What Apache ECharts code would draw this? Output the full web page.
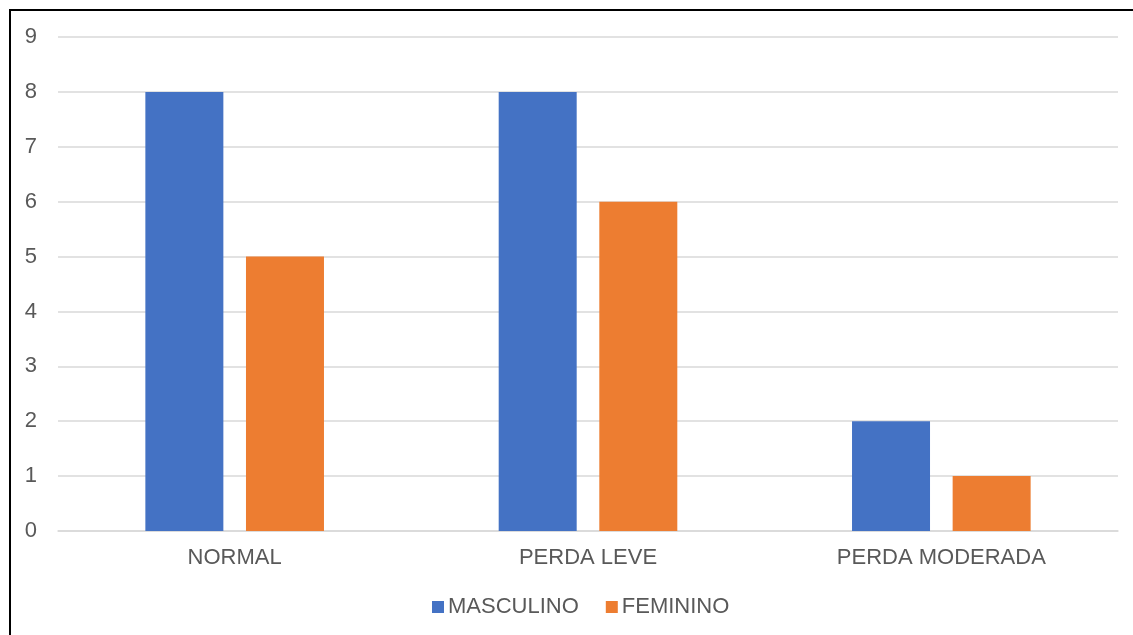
<!DOCTYPE html>
<html>
<head>
<meta charset="utf-8">
<script src="https://cdn.jsdelivr.net/npm/echarts@6/dist/echarts.min.js"></script>
<style>
  html, body { margin: 0; padding: 0; background: #fff; }
  #frame { position: absolute; left: 9px; top: 9px; width: 1124px; height: 626px;
           border-top: 2px solid #000; border-left: 2px solid #000; box-sizing: border-box; }
  #chart { position: absolute; left: 0; top: 0; width: 1133px; height: 635px; }
</style>
</head>
<body>
<div id="frame"></div>
<div id="chart"></div>
<script>
// values
const categories = ["NORMAL", "PERDA LEVE", "PERDA MODERADA"];
const masculino = [8, 8, 2];
const feminino = [5, 6, 1];
const yTicks = { min: 0, max: 9, interval: 1 };

const textColor = "#595959";
const font = "Liberation Sans, Arial, sans-serif";

const chart = echarts.init(document.getElementById("chart"));
chart.setOption({
  animation: false,
  grid: { left: 58, right: 15, top: 37, bottom: 104, containLabel: false },
  legend: {
    data: ["MASCULINO", "FEMININO"],
    left: 427,
    top: 591,
    itemWidth: 12,
    itemHeight: 12,
    itemGap: 27,
    icon: "rect",
    textStyle: { color: textColor, fontSize: 22, fontFamily: font, padding: [0, 0, 0, -1] }
  },
  xAxis: {
    type: "category",
    data: categories,
    axisLine: { lineStyle: { color: "#D9D9D9", width: 1.5 } },
    axisTick: { show: false },
    axisLabel: { color: textColor, fontSize: 22, fontFamily: font, margin: 16 }
  },
  yAxis: {
    type: "value",
    min: yTicks.min,
    max: yTicks.max,
    interval: yTicks.interval,
    axisLine: { show: false },
    axisTick: { show: false },
    splitLine: { lineStyle: { color: "#D9D9D9", width: 1.5 } },
    axisLabel: { color: textColor, fontSize: 22, fontFamily: font, margin: 21 }
  },
  series: [
    {
      name: "MASCULINO",
      type: "bar",
      data: masculino,
      barWidth: 78,
      barGap: "29%",
      itemStyle: { color: "#4472C4" }
    },
    {
      name: "FEMININO",
      type: "bar",
      data: feminino,
      barWidth: 78,
      itemStyle: { color: "#ED7D31" }
    }
  ]
});
</script>
</body>
</html>
